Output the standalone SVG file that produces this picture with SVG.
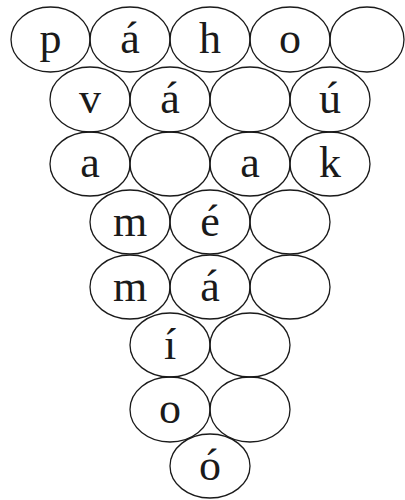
<svg xmlns="http://www.w3.org/2000/svg" width="405" height="500" viewBox="0 0 405 500">
<style>
  ellipse { fill: none; stroke: #1a1a1a; stroke-width: 1.3; }
  text { font-family: "Liberation Serif", "Times New Roman", serif; font-size: 44px; fill: #1a1a1a; text-anchor: middle; }
</style>
<rect width="405" height="500" fill="#ffffff"/>
<g id="r1c1"><ellipse cx="50.5" cy="39.5" rx="39.5" ry="32.5"/><text x="50.5" y="53">p</text></g>
<g id="r1c2"><ellipse cx="130" cy="39.5" rx="40" ry="32.5"/><text x="130" y="53">á</text></g>
<g id="r1c3"><ellipse cx="210" cy="39.5" rx="40" ry="32.5"/><text x="210" y="53">h</text></g>
<g id="r1c4"><ellipse cx="290" cy="39.5" rx="40" ry="32.5"/><text x="290" y="53">o</text></g>
<g id="r1c5"><ellipse cx="367" cy="39.5" rx="37" ry="32.5"/></g>

<g id="r2c1"><ellipse cx="90" cy="99.5" rx="40" ry="32.5"/><text x="90" y="113">v</text></g>
<g id="r2c2"><ellipse cx="170" cy="99.5" rx="40" ry="32.5"/><text x="170" y="113">á</text></g>
<g id="r2c3"><ellipse cx="250" cy="99.5" rx="40" ry="32.5"/></g>
<g id="r2c4"><ellipse cx="330" cy="99.5" rx="40" ry="32.5"/><text x="330" y="113">ú</text></g>

<g id="r3c1"><ellipse cx="90" cy="164" rx="40" ry="32"/><text x="90" y="177">a</text></g>
<g id="r3c2"><ellipse cx="170" cy="164" rx="40" ry="32"/></g>
<g id="r3c3"><ellipse cx="250" cy="164" rx="40" ry="32"/><text x="250" y="177">a</text></g>
<g id="r3c4"><ellipse cx="330" cy="164" rx="40" ry="32"/><text x="330" y="177">k</text></g>

<g id="r4c1"><ellipse cx="130" cy="222" rx="40" ry="32"/><text x="130" y="235.5">m</text></g>
<g id="r4c2"><ellipse cx="210" cy="222" rx="40" ry="32"/><text x="210" y="235.5">é</text></g>
<g id="r4c3"><ellipse cx="290" cy="222" rx="40" ry="32"/></g>

<g id="r5c1"><ellipse cx="130" cy="287" rx="40" ry="32"/><text x="130" y="300.5">m</text></g>
<g id="r5c2"><ellipse cx="210" cy="287" rx="40" ry="32"/><text x="210" y="300.5">á</text></g>
<g id="r5c3"><ellipse cx="290" cy="287" rx="40" ry="32"/></g>

<g id="r6c1"><ellipse cx="170" cy="345" rx="40" ry="32"/><text x="170" y="358.5">í</text></g>
<g id="r6c2"><ellipse cx="250" cy="345" rx="40" ry="32"/></g>

<g id="r7c1"><ellipse cx="170" cy="409.5" rx="40" ry="32.5"/><text x="170" y="423">o</text></g>
<g id="r7c2"><ellipse cx="250" cy="409.5" rx="40" ry="32.5"/></g>

<g id="r8c1"><ellipse cx="210" cy="466" rx="40" ry="32"/><text x="210" y="479.5">ó</text></g>
<g id="connectors"></g>
</svg>
